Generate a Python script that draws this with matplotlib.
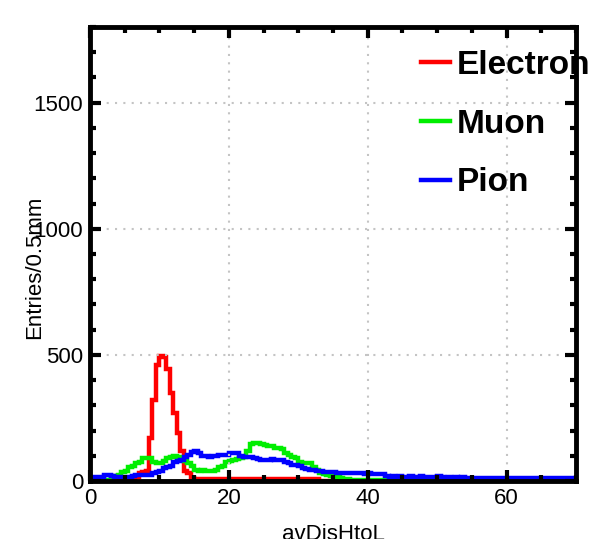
import matplotlib.pyplot as plt
import numpy as np
from matplotlib.lines import Line2D
from matplotlib.ticker import MultipleLocator

plt.rcParams["font.family"] = ["Liberation Sans", "DejaVu Sans"]

# histogram binning: 0.5 wide bins from 0 to 70
bin_edges = np.arange(0, 70.5, 0.5)

electron = ([0] * 13
            + [15, 30, 35, 40, 170, 320, 460, 495, 490, 445, 350, 270, 190,
               120, 40, 30, 12]
            + [8] * 36
            + [0] * 74)

muon = ([3] * 6
        + [10, 20, 25, 35, 40, 55, 60, 70, 75, 90, 92, 90, 75, 72, 70, 80,
           92, 95, 100, 95, 90, 80, 70, 58, 45, 40, 42, 40, 38, 40, 45, 55,
           60, 75, 80, 85, 88, 90, 95, 120, 148, 150, 152, 148, 142, 140,
           140, 132, 130, 128, 110, 104, 95, 92, 75, 72, 72, 70, 56, 45, 30,
           28, 25, 18, 16, 15, 12, 8, 6]
        + [5] * 10
        + [0] * 55)

pion = ([17, 17, 17, 17, 25, 25, 20, 17, 15, 15, 15, 15, 20, 22, 22, 24,
         22, 25, 30, 35, 40, 50, 57, 60, 75, 80, 85, 95, 104, 115, 117, 110,
         100, 98, 97, 100, 98, 104, 105, 104, 110, 112, 112, 100, 97, 97, 95,
         92, 86, 85, 84, 85, 88, 84, 82, 84, 77, 70, 65, 62, 58, 52, 48, 45,
         44, 40, 38, 37, 37, 36, 35, 33, 32, 32, 31, 30, 32, 31, 30, 28, 30,
         29, 27, 28, 26, 18, 16, 20, 17, 21, 16, 15, 19, 16, 14, 18, 15, 16,
         14, 15, 19, 14, 13, 16, 12, 15, 13, 16, 12, 13, 11]
        + [10] * 29)

series = [("Electron", electron, "#ff0000"),
          ("Muon", muon, "#00ee00"),
          ("Pion", pion, "#0000ff")]

fig = plt.figure(figsize=(5.98, 5.39), dpi=100)
ax = fig.add_axes([90 / 598, 58 / 539, 486 / 598, 454 / 539])

for name, vals, col in series:
    ax.stairs(vals, bin_edges, color=col, lw=3.2, baseline=0)

ax.set_xlim(0, 70)
ax.set_ylim(0, 1800)
ax.xaxis.set_major_locator(MultipleLocator(20))
ax.xaxis.set_minor_locator(MultipleLocator(5))
ax.yaxis.set_major_locator(MultipleLocator(500))
ax.yaxis.set_minor_locator(MultipleLocator(100))
ax.tick_params(which="both", direction="in", top=True, right=True,
               width=3, labelsize=16, pad=5)
ax.tick_params(which="major", length=8)
ax.tick_params(which="minor", length=4)
ax.grid(True, which="major", ls=(0, (1, 3)), color="#c4c4c4", lw=1.5)
for sp in ax.spines.values():
    sp.set_linewidth(3.5)

ax.set_ylabel("Entries/0.5mm", fontsize=16)
ax.yaxis.set_label_coords(-0.092, 0.47)
ax.set_xlabel("avDisHtoL", fontsize=16, labelpad=11)

handles = [Line2D([], [], color=c, lw=3.2) for _, _, c in series]
fig.legend(handles, [n for n, _, _ in series], loc="upper left",
           bbox_to_anchor=(421 / 598, 1 - 50 / 539), frameon=False,
           prop={"weight": "bold", "size": 24}, handlelength=0.87,
           handletextpad=0.2, labelspacing=0.83, borderpad=0,
           borderaxespad=0)

fig.savefig("out.png", dpi=100)
